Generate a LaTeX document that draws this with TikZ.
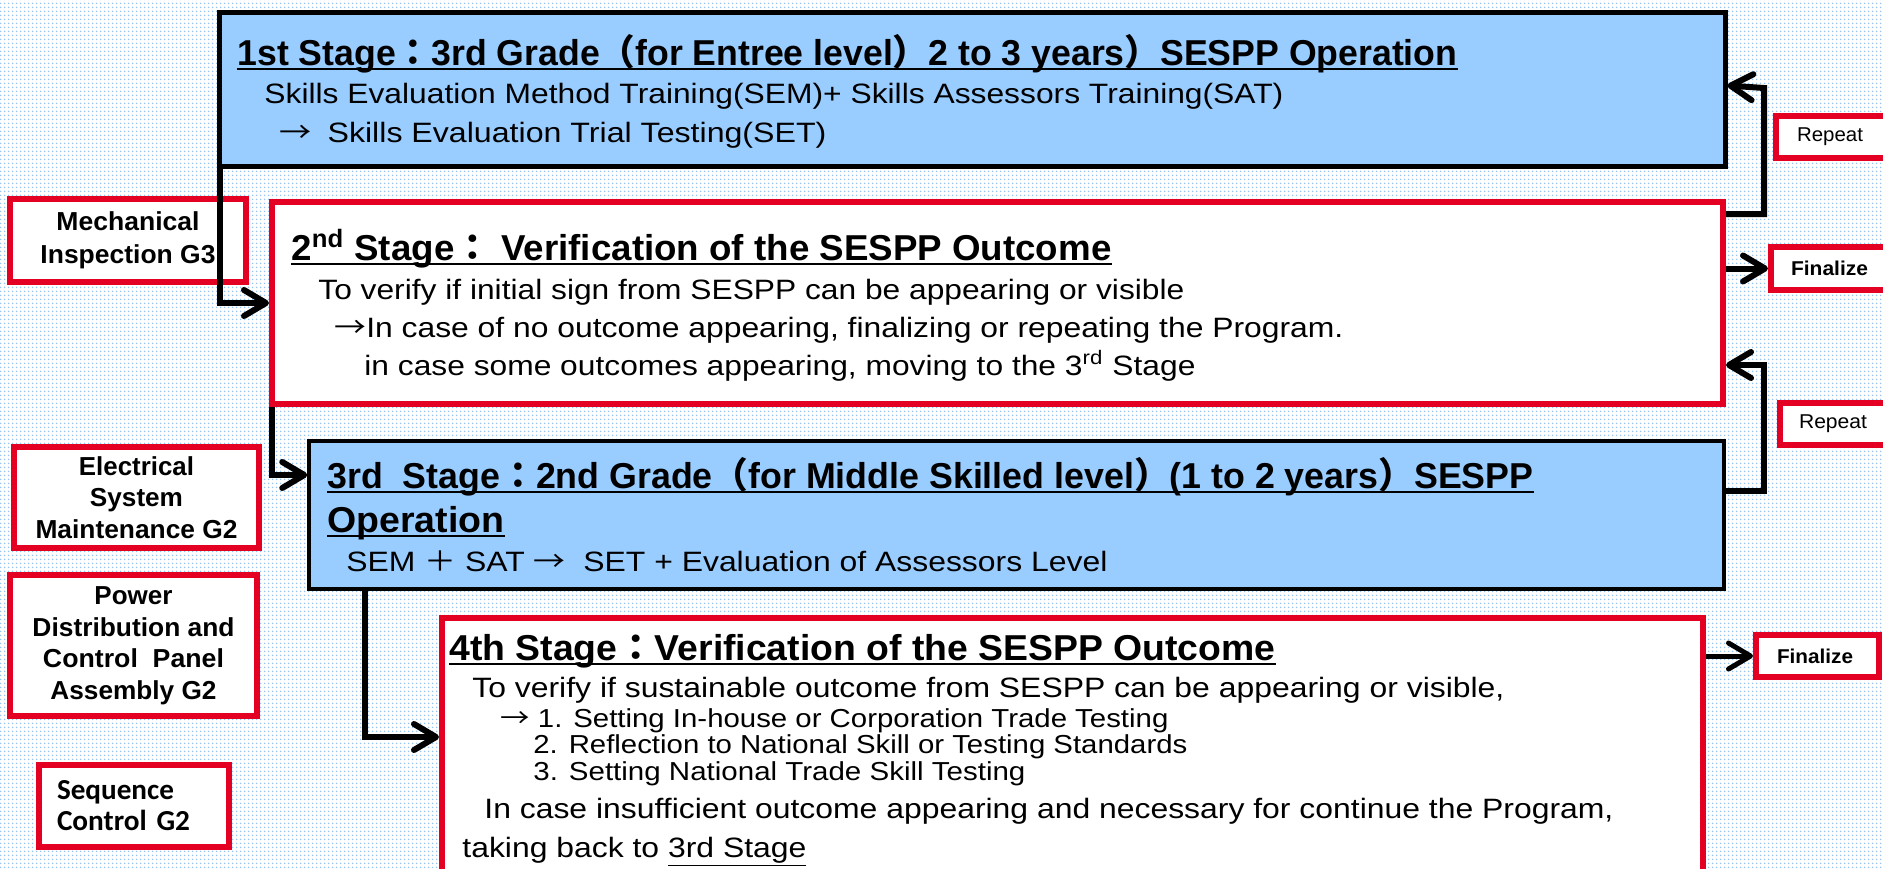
\documentclass[tikz,border=0pt]{standalone}
\usepackage{fontspec}
\setmainfont{Liberation Sans}
\newfontfamily\cjk{Noto Sans CJK JP}
\newfontfamily\carlito{Carlito}
\usepackage{graphicx}
\usetikzlibrary{arrows.meta,patterns.meta}
\newdimen\pxu \pxu=0.5pt
\newcommand\fw[2]{\resizebox{#1\pxu}{\height}{#2}}
\newcommand\zcolon{{\cjk ：}}
\newcommand\zlp{{\cjk （}}
\newcommand\zrp{{\cjk ）}}
\newcommand\zplus{{\cjk ＋}}
\newcommand\zarr{{\cjk →}}
\definecolor{boxblue}{RGB}{153,204,255}
\definecolor{boxred}{RGB}{227,0,34}
\definecolor{dotblue}{RGB}{150,196,240}
\tikzdeclarepattern{
  name=bgdots,
  type=uncolored,
  bounding box={(0pt,0pt) and (2pt,2pt)},
  tile size={(2pt,2pt)},
  code={\fill (1pt,1pt) circle (0.5pt);}
}
\newcommand\ftitle{\fontsize{18}{20}\selectfont\bfseries}
\newcommand\fbody{\fontsize{14}{16}\selectfont}
\newcommand\fsmall{\fontsize{13}{15}\selectfont}
\begin{document}
\begin{tikzpicture}[x=0.5pt,y=-0.5pt,
  bluebox/.style={draw=black, fill=boxblue, line width=2.5pt, inner sep=0pt},
  redbox/.style={draw=boxred, fill=white, line width=3pt, inner sep=0pt},
  lbox/.style={redbox, align=center, font=\fontsize{13}{15.75}\selectfont\bfseries},
  rbox/.style={redbox, align=left, inner ysep=0pt, minimum height=21pt},
  tx/.style={inner sep=0pt, anchor=base west},
  ul/.style={line width=1.2pt},
  conn/.style={line width=3pt, -{Straight Barb[length=11pt,width=13pt,round]}}
]
\useasboundingbox (0,0) rectangle (1883,868);
\clip (0,0) rectangle (1883,868);
\fill[white] (0,0) rectangle (1883,868);
\fill[pattern=bgdots, pattern color=dotblue] (0,0) rectangle (1883,868);

% main stage boxes
\node[bluebox, minimum width=753pt, minimum height=77pt] (b1) at (972,89) {};
\node[redbox, minimum width=725.5pt, minimum height=101pt] (b2) at (997.5,303) {};
\node[bluebox, line width=1.75pt, minimum width=707.5pt, minimum height=74pt] (b3) at (1016.5,515) {};
\node[redbox, minimum width=630.5pt, minimum height=141pt] (b4) at (1072.5,759) {};

% stage 1 texts
\node[tx, font=\ftitle] (t1) at (237,65) {\fw{1220}{1st Stage\zcolon 3rd Grade\zlp for Entree level\zrp 2 to 3 years\zrp SESPP Operation}};
\draw[ul] ([yshift=-2pt]t1.base west) -- ([yshift=-2pt]t1.base east);
\node[tx, font=\fbody] (t2) at (264,103) {\fw{1019}{Skills Evaluation Method Training(SEM)+ Skills Assessors Training(SAT)}};
\node[tx, font=\fbody] (t3) at (279,142) {\fw{547}{\zarr\hspace{0.5em}Skills Evaluation Trial Testing(SET)}};

% stage 2 texts
\node[tx, font=\ftitle] (s1) at (291,260) {\fw{820}{2\textsuperscript{nd} Stage\zcolon\ Verification of the SESPP Outcome}};
\draw[ul] ([yshift=-2pt]s1.base west) -- ([yshift=-2pt]s1.base east);
\node[tx, font=\fbody] (s2) at (318,299) {\fw{866}{To verify if initial sign from SESPP can be appearing or visible}};
\node[tx, font=\fbody] (s3) at (334,337) {\fw{1009}{\zarr In case of no outcome appearing, finalizing or repeating the Program.}};
\node[tx, font=\fbody] (s4) at (364,375) {\fw{831}{in case some outcomes appearing, moving to the 3\textsuperscript{rd} Stage}};

% stage 3 texts
\node[tx, font=\ftitle] (u1) at (327,488) {\fw{1206}{3rd\ \ Stage\zcolon 2nd Grade\zlp for Middle Skilled level\zrp(1 to 2 years\zrp SESPP}};
\draw[ul] ([yshift=-2pt]u1.base west) -- ([yshift=-2pt]u1.base east);
\node[tx, font=\ftitle] (u2) at (327,532) {\fw{177}{Operation}};
\draw[ul] ([yshift=-2pt]u2.base west) -- ([yshift=-2pt]u2.base east);
\node[tx, font=\fbody] (u3) at (346,571) {\fw{761}{SEM \zplus\ SAT \zarr\ \ SET + Evaluation of Assessors Level}};

% stage 4 texts
\node[tx, font=\ftitle] (v1) at (449,660) {\fw{826}{4th Stage\zcolon Verification of the SESPP Outcome}};
\draw[ul] ([yshift=-2pt]v1.base west) -- ([yshift=-2pt]v1.base east);
\node[tx, font=\fbody] (v2) at (472,697) {\fw{1032}{To verify if sustainable outcome from SESPP can be appearing or visible,}};
\node[tx, font=\fsmall] (v3) at (500,727) {\fw{668}{\zarr\ 1. Setting In-house or Corporation Trade Testing}};
\node[tx, font=\fsmall] (v4) at (533,753) {\fw{654}{2. Reflection to National Skill or Testing Standards}};
\node[tx, font=\fsmall] (v5) at (533,780) {\fw{492}{3. Setting National Trade Skill Testing}};
\node[tx, font=\fbody] (v6) at (484,818) {\fw{1129}{In case insufficient outcome appearing and necessary for continue the Program,}};
\node[tx, font=\fbody] (v7) at (462,857) {\fw{344}{taking back to \underline{3rd Stage}}};

% left trade boxes
\node[lbox, font=\fontsize{13}{16.5}\selectfont\bfseries, minimum width=118pt, minimum height=41.5pt] (m1) at (128,240.5) {\fw{143}{Mechanical}\\\fw{175}{Inspection G3}};
\node[lbox, minimum width=122.5pt, minimum height=50.5pt] (m2) at (136.5,497.5) {\fw{115}{Electrical}\\\fw{93}{System}\\\fw{202}{Maintenance G2}};
\node[lbox, minimum width=123.5pt, minimum height=70.5pt] (m3) at (133.5,645.5) {\fw{78}{Power}\\\fw{202}{Distribution and}\\\fw{181}{Control\ \ Panel}\\\fw{166}{Assembly G2}};
\node[redbox, align=left, font=\fontsize{14.5}{15.5}\selectfont\carlito\bfseries, inner xsep=9pt, text width=77pt, minimum height=41pt] (m4) at (134,806) {\fw{117}{Sequence}\\\fw{133}{Control G2}};

% right outcome boxes
\node[rbox, font=\fontsize{10}{12}\selectfont, inner xsep=10.5pt, text width=38.5pt] (rep1) at (1835.5,137) {\fw{66}{Repeat}};
\node[rbox, font=\fontsize{10}{12}\selectfont\bfseries, inner xsep=10pt, text width=42pt, minimum height=21.5pt] (fin1) at (1833,268.5) {\fw{77}{Finalize}};
\node[rbox, font=\fontsize{10}{12}\selectfont, inner xsep=9.5pt, text width=38.5pt] (rep2) at (1837.5,424) {\fw{68}{Repeat}};
\node[rbox, font=\fontsize{10}{12}\selectfont\bfseries, inner xsep=10.5pt, text width=40.5pt] (fin2) at (1817.5,656) {\fw{76}{Finalize}};

% connectors
\draw[conn] ([xshift=1.5pt]b1.south west) |- (b2.west);
\draw[conn] ([xshift=1.5pt]b2.south west) |- ([yshift=20pt]b3.west);
\draw[conn] ([xshift=29pt]b3.south west) |- ([yshift=11pt]b4.west);

\coordinate (r1turn) at (1764,88);
\coordinate (r2turn) at (1764,365);
\draw[conn] ([yshift=-7.5pt]b2.north east) -| (r1turn) -- ([yshift=-38pt]b1.north east);
\draw[conn] (b2.east |- fin1.west) -- (fin1.west);
\draw[conn] ([yshift=12pt]b3.east) -| (r2turn) -- ([yshift=-31pt]b2.east);
\draw[conn, line width=2.5pt] (b4.east |- fin2.west) -- (fin2.west);
\end{tikzpicture}
\end{document}
